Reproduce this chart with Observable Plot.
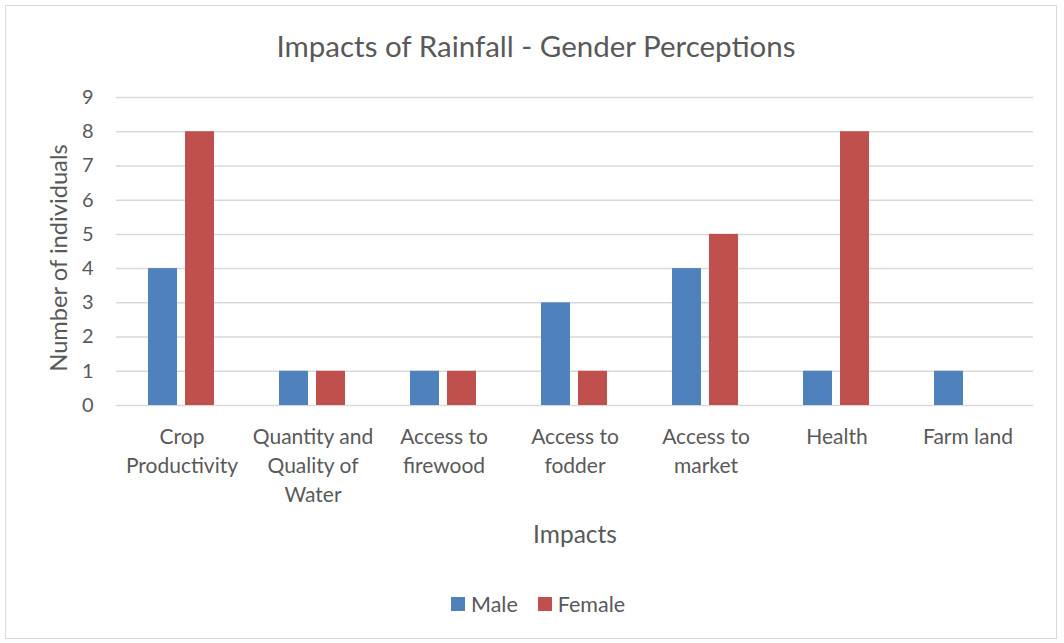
<!DOCTYPE html>
<html>
<head>
<meta charset="utf-8">
<script src="https://cdn.jsdelivr.net/npm/d3@7"></script>
<script src="https://cdn.jsdelivr.net/npm/@observablehq/plot@0.6"></script>
<style>
  html, body { margin: 0; padding: 0; background: #fff; }
  body { width: 1064px; height: 643px; position: relative; overflow: hidden; font-family: Lato, "Open Sans", sans-serif; color: #595959; }
  #frame { position: absolute; left: 5px; top: 5px; width: 1052px; height: 634px; border: 1.5px solid #d9d9d9; box-sizing: border-box; }
  #title { position: absolute; left: 0; width: 1072px; top: 27px; text-align: center; font-size: 29.5px; line-height: 38px; }
  #chart { position: absolute; left: 0; top: 0; }
  #ylabel { position: absolute; left: 58px; top: 258px; transform: translate(-50%, -50%) rotate(-90deg); font-size: 23.7px; white-space: nowrap; }
  #xlabel { position: absolute; left: 575px; top: 533px; transform: translate(-50%, -50%); font-size: 24.5px; white-space: nowrap; }
  #legend { position: absolute; left: 451px; top: 590px; font-size: 21.5px; display: flex; align-items: center; line-height: 28px; }
  .sw { display: inline-block; width: 14px; height: 14px; margin-right: 6px; }
  .item { display: flex; align-items: center; margin-right: 20px; }
</style>
</head>
<body>
<div id="frame"></div>
<div id="title"></div>
<div id="chart"></div>
<div id="ylabel"></div>
<div id="xlabel"></div>
<div id="legend"></div>
<script>
const titleText = "Impacts of Rainfall - Gender Perceptions";
const yTitle = "Number of individuals";
const xTitle = "Impacts";
const categories = ["Crop Productivity", "Quantity and Quality of Water", "Access to firewood", "Access to fodder", "Access to market", "Health", "Farm land"];
const categoryLabels = ["Crop\nProductivity", "Quantity and\nQuality of\nWater", "Access to\nfirewood", "Access to\nfodder", "Access to\nmarket", "Health", "Farm land"];
const series = ["Male", "Female"];
const colors = ["#4F81BD", "#C0504D"];
const male = [4, 1, 1, 3, 4, 1, 1];
const female = [8, 1, 1, 1, 5, 8, 0];
const yTicks = [0, 1, 2, 3, 4, 5, 6, 7, 8, 9];

const data = [];
categories.forEach((c, i) => {
  data.push({category: c, series: "Male", value: male[i]});
  data.push({category: c, series: "Female", value: female[i]});
});
const labelMap = new Map(categories.map((c, i) => [c, categoryLabels[i]]));

const chart = Plot.plot({
  width: 1064,
  height: 560,
  marginLeft: 113,
  marginRight: 28,
  marginTop: 97,
  marginBottom: 155,
  style: {fontFamily: "Lato, 'Open Sans', sans-serif", fontSize: "21px", color: "#595959", background: "transparent", overflow: "visible"},
  fx: {domain: categories, padding: 0, axis: null, label: null},
  x: {domain: series, paddingInner: 0.206, paddingOuter: 0.86, axis: null},
  y: {domain: [0, 9], axis: null},
  color: {domain: series, range: colors},
  marks: [
    Plot.gridY(yTicks, {stroke: "#d9d9d9", strokeOpacity: 1, strokeWidth: 1.5}),
    Plot.barY(data.filter(d => d.value > 0), {fx: "category", x: "series", y: "value", fill: "series"}),
    Plot.axisY(yTicks, {tickSize: 0, tickPadding: 23, label: null, fontSize: 20}),
    Plot.axisFx({anchor: "bottom", tickSize: 0, tickPadding: 18, label: null, tickFormat: d => labelMap.get(d), lineHeight: 1.38, fontSize: 21})
  ]
});
document.getElementById("chart").appendChild(chart);
document.getElementById("title").textContent = titleText;
document.getElementById("ylabel").textContent = yTitle;
document.getElementById("xlabel").textContent = xTitle;
const legend = document.getElementById("legend");
series.forEach((s, i) => {
  const item = document.createElement("div");
  item.className = "item";
  const sw = document.createElement("span");
  sw.className = "sw";
  sw.style.background = colors[i];
  item.appendChild(sw);
  item.appendChild(document.createTextNode(s));
  legend.appendChild(item);
});
</script>
</body>
</html>
